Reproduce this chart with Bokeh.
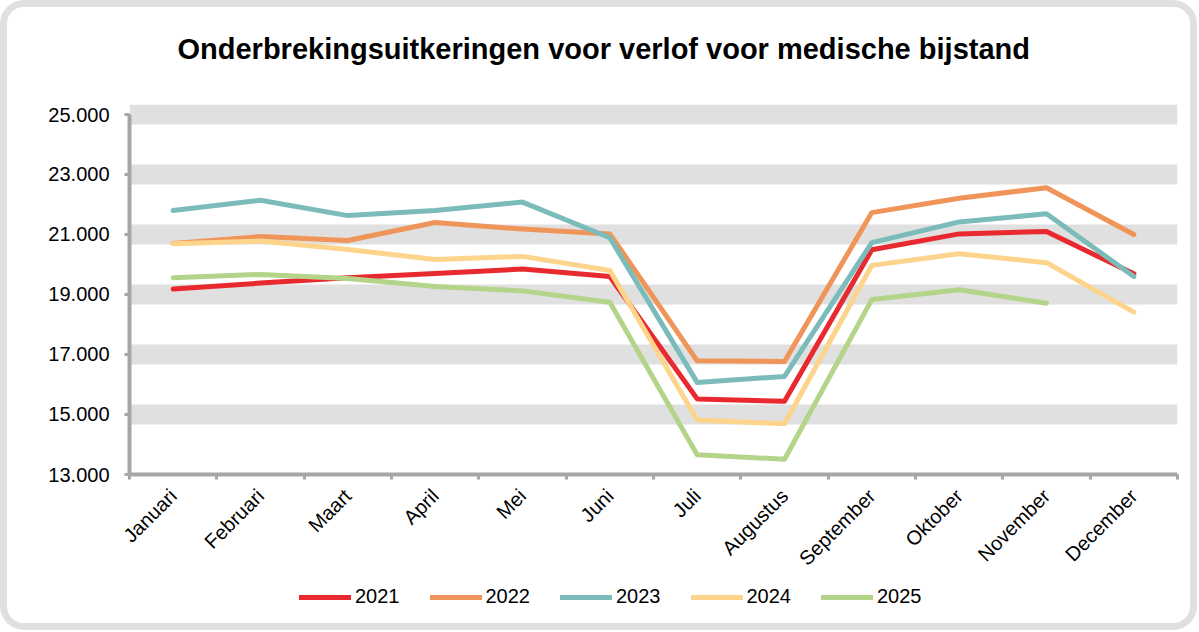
import math
from bokeh.plotting import figure
from bokeh.layouts import column
from bokeh.models import (ColumnDataSource, Range1d, FixedTicker, BoxAnnotation,
                          Legend, LegendItem)
from bokeh.embed import file_html
from bokeh.resources import INLINE

months = ["Januari", "Februari", "Maart", "April", "Mei", "Juni", "Juli",
          "Augustus", "September", "Oktober", "November", "December"]
years = ["2021", "2022", "2023", "2024", "2025"]
y2021 = [19180, 19380, 19560, 19700, 19850, 19600, 15520, 15440, 20490, 21020, 21100, 19690]
y2022 = [20700, 20930, 20800, 21400, 21180, 21020, 16790, 16770, 21730, 22210, 22560, 21000]
y2023 = [21800, 22140, 21630, 21800, 22080, 20890, 16070, 16270, 20730, 21420, 21690, 19600]
y2024 = [20690, 20780, 20500, 20170, 20270, 19800, 14820, 14690, 19970, 20360, 20060, 18410]
y2025 = [19560, 19670, 19530, 19270, 19120, 18740, 13660, 13510, 18830, 19160, 18710]
series = [y2021, y2022, y2023, y2024, y2025]
colors = ["#e8292f", "#f0955a", "#7bbcbb", "#fdd48b", "#b4d48a"]
y_ticks = [13000, 15000, 17000, 19000, 21000, 23000, 25000]
title_text = "Onderbrekingsuitkeringen voor verlof voor medische bijstand"

AXIS_GRAY = "#a6a6a6"
FONT = "Liberation Sans"
W = 1183

# ---- title strip ----
tf = figure(width=W, height=97, output_backend="svg", toolbar_location=None,
            x_range=Range1d(0, 1), y_range=Range1d(0, 1),
            x_axis_type=None, y_axis_type=None, min_border=0)
tf.outline_line_color = None
tf.xgrid.visible = False
tf.ygrid.visible = False
tf.title.text = title_text
tf.title.text_font = FONT
tf.title.text_font_size = "29px"
tf.title.text_font_style = "bold"
tf.title.text_color = "#000000"
tf.title.align = "left"
tf.title.offset = 48
tf.title.standoff = 47

# ---- main chart ----
p = figure(width=W, height=476, output_backend="svg", toolbar_location=None,
           x_range=Range1d(0, len(months)), y_range=Range1d(13000, 25333),
           min_border_left=122, min_border_right=13, min_border_top=0,
           min_border_bottom=106)
p.outline_line_color = None
p.xgrid.visible = False
p.ygrid.visible = False
p.background_fill_color = "white"
p.border_fill_color = "white"

for t in y_ticks[1:]:
    p.add_layout(BoxAnnotation(bottom=t - 333, top=t + 333, fill_color="#e0e0e0",
                               fill_alpha=1.0, line_color=None, level="underlay"))

centers = [i + 0.5 for i in range(len(months))]

xa = p.xaxis[0]
xa.ticker = FixedTicker(ticks=centers, minor_ticks=list(range(len(months) + 1)))
xa.major_label_overrides = {c: m for c, m in zip(centers, months)}
xa.major_label_orientation = math.pi / 4
xa.major_tick_out = 0
xa.major_tick_in = 0
xa.minor_tick_out = 5
xa.minor_tick_in = 0
xa.minor_tick_line_color = AXIS_GRAY
xa.minor_tick_line_width = 3
xa.axis_line_color = AXIS_GRAY
xa.axis_line_width = 4
xa.major_label_text_font = FONT
xa.major_label_text_font_size = "20px"
xa.major_label_text_color = "#000000"
xa.major_label_standoff = 13

ya = p.yaxis[0]
ya.ticker = FixedTicker(ticks=y_ticks)
ya.bounds = (y_ticks[0], y_ticks[-1])
ya.major_label_overrides = {t: f"{t:,}".replace(",", ".") for t in y_ticks}
ya.major_tick_out = 5
ya.major_tick_in = 0
ya.major_tick_line_color = AXIS_GRAY
ya.major_tick_line_width = 3
ya.minor_tick_out = 0
ya.minor_tick_in = 0
ya.axis_line_color = AXIS_GRAY
ya.axis_line_width = 4
ya.major_label_text_font = FONT
ya.major_label_text_font_size = "20px"
ya.major_label_text_color = "#000000"
ya.major_label_standoff = 15

for yr, vals, col in zip(years, series, colors):
    src = ColumnDataSource(dict(x=centers[:len(vals)], y=vals))
    p.line("x", "y", source=src, line_color=col, line_width=5,
           line_cap="round", line_join="round")

# ---- legend strip ----
lf = figure(width=W, height=43, output_backend="svg", toolbar_location=None,
            x_range=Range1d(0, 1), y_range=Range1d(0, 1),
            x_axis_type=None, y_axis_type=None, min_border=0)
lf.outline_line_color = None
lf.xgrid.visible = False
lf.ygrid.visible = False

items = []
for yr, vals, col in zip(years, series, colors):
    # same series, outside this strip's view: only the legend swatch shows
    r = lf.line(centers[:len(vals)], vals, line_color=col, line_width=5,
                line_cap="round")
    items.append(LegendItem(label=yr, renderers=[r]))

legend = Legend(items=items, orientation="horizontal", location=(170, 15),
                glyph_width=52, glyph_height=20, label_height=20,
                label_standoff=4, spacing=30, padding=0, margin=0,
                border_line_color=None, background_fill_alpha=0,
                label_text_font=FONT, label_text_font_size="20px",
                label_text_color="#000000")
lf.add_layout(legend, "center")

layout = column(tf, p, lf, spacing=0,
                styles={"border": "7px solid #e0e0e0", "border-radius": "24px",
                        "box-sizing": "content-box", "overflow": "hidden",
                        "background-color": "white"})

open("out.html", "w").write(file_html(layout, INLINE))
